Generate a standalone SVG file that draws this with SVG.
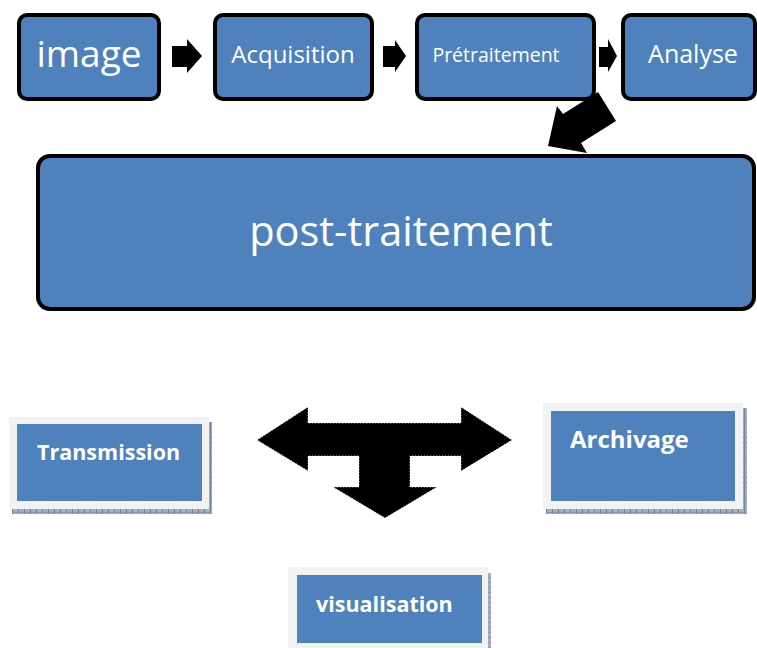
<svg xmlns="http://www.w3.org/2000/svg" width="757" height="648" viewBox="0 0 757 648">
<style>
.box{fill:#4F81BD;stroke:#000;stroke-width:4}
.t{fill:#fff;font-family:"Open Sans","Liberation Sans",sans-serif;text-anchor:middle}
.b{fill:#fff;font-family:"Open Sans","Liberation Sans",sans-serif;font-weight:bold}
.frame{fill:#F2F2F2}
.inner{fill:#4F81BD}
.shadow{fill:url(#hatch)}
.arr{fill:#000}
</style>
<defs>
<pattern id="hatch" width="6" height="5" patternUnits="userSpaceOnUse">
<rect width="6" height="5" fill="#A3B0C4"/>
<rect x="0" y="0" width="1" height="5" fill="#6F7F98"/>
<rect x="0" y="2" width="6" height="1" fill="#8595AD"/>
</pattern>
</defs>
<rect width="757" height="648" fill="#fff"/>

<g id="connectors">
<polygon class="arr" points="172,46 187,46 187,39 202,56 187,73 187,67 172,67"/>
<polygon class="arr" points="383,46 395,46 395,40 406,56 395,72 395,67 383,67"/>
<polygon class="arr" points="599,47 608,47 608,39 617,56 608,72 608,67 599,67"/>
<polygon class="arr" points="548,146 587,153 581,143 616,121 598,92 563,114 557,106"/>
<polygon class="arr" points="257,440 308,407 308,423 461,423 461,407 512,440 461,471 461,456 410,456 410,487 437,487 385,518 333,487 359,487 359,456 308,456 308,471" stroke="#fff" stroke-width="1" stroke-dasharray="1 2"/>
</g>

<g id="node-image">
<rect class="box" x="19" y="15" width="140" height="84" rx="8"/>
<text class="t" x="89" y="67" font-size="37">image</text>
</g>
<g id="node-acquisition">
<rect class="box" x="215" y="15" width="157" height="84" rx="8"/>
<text class="t" x="293" y="63" font-size="24">Acquisition</text>
</g>
<g id="node-pretraitement">
<rect class="box" x="417" y="15" width="177" height="84" rx="8"/>
<text class="t" x="496" y="62" font-size="19.5">Prétraitement</text>
</g>
<g id="node-analyse">
<rect class="box" x="623" y="15" width="132" height="84" rx="8"/>
<text class="t" x="693" y="63" font-size="25">Analyse</text>
</g>
<g id="node-post-traitement">
<rect class="box" x="38" y="156" width="716" height="153" rx="12"/>
<text class="t" x="401" y="246" font-size="41.5">post-traitement</text>
</g>

<g id="node-transmission">
<rect class="shadow" x="209" y="422" width="3" height="92"/>
<rect class="shadow" x="12" y="509" width="200" height="5"/>
<rect class="frame" x="9" y="417" width="200" height="92"/>
<rect class="inner" x="17" y="424" width="185" height="77"/>
<text class="b" x="37" y="460" font-size="21.5">Transmission</text>
</g>
<g id="node-archivage">
<rect class="shadow" x="743" y="408" width="4" height="106"/>
<rect class="shadow" x="546" y="509" width="201" height="5"/>
<rect class="frame" x="543" y="403" width="200" height="106"/>
<rect class="inner" x="551" y="411" width="184" height="90"/>
<text class="b" x="570" y="448" font-size="24">Archivage</text>
</g>
<g id="node-visualisation">
<rect class="shadow" x="488" y="573" width="3" height="75"/>
<rect class="frame" x="288" y="567" width="200" height="81"/>
<rect class="inner" x="297" y="575" width="185" height="68"/>
<text class="b" x="316" y="612" font-size="21.5">visualisation</text>
</g>
</svg>
